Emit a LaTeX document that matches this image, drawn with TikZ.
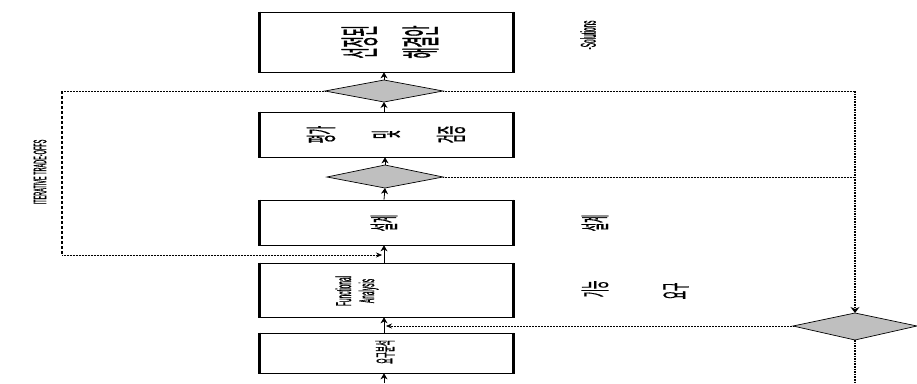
\documentclass[tikz,border=0pt]{standalone}
\usepackage{fontspec}
\newfontfamily\kr[FakeBold=1]{Noto Sans CJK KR}
\newfontfamily\lat[FakeBold=1]{Liberation Sans}
\usetikzlibrary{arrows.meta}
\begin{document}
\begin{tikzpicture}[x=1pt,y=-1pt,
  procbox/.style={draw,line width=0.7pt,minimum width=256pt,inner sep=0pt},
  dec/.style={draw,line width=0.7pt,fill=black!25},
  flow/.style={line width=0.8pt,-{Stealth[length=6pt,width=7pt]}},
  thin/.style={line width=0.5pt,densely dotted},
  vtxt/.style={xscale=3.3,rotate=90,align=center,inner sep=0pt}]
\useasboundingbox (0,0) rectangle (917,383);
% boxes
\node[procbox,minimum height=60pt] (b1) at (386,42) {};
\node[procbox,minimum height=45pt] (b2) at (386,134.5) {};
\node[procbox,minimum height=45pt] (b3) at (386,222.5) {};
\node[procbox,minimum height=54pt] (b4) at (386,290) {};
\node[procbox,minimum height=40pt] (b5) at (386,353) {};
\foreach \b in {b1,b2,b3,b4,b5}{
  \draw[line width=3.5pt] ([xshift=1.75pt]\b.north west) -- ([xshift=1.75pt]\b.south west);
  \draw[line width=2pt] ([xshift=-1pt]\b.north east) -- ([xshift=-1pt]\b.south east);}
% box texts
\node[vtxt,font=\kr\fontsize{12}{18.5}\selectfont] (t1) at (390,42) {선정된\\해결안};
\node[vtxt,font=\kr\fontsize{9.5}{19.7}\selectfont] (t2) at (386,134.5) {평가\\및\\검증};
\node[vtxt,font=\kr\fontsize{9}{10}\selectfont] (t3) at (384,223) {설계};
\node[vtxt,font=\lat\fontsize{6.5}{7}\selectfont] (t4) at (357,291) {Functional\\Analysis};
\node[vtxt,font=\kr\fontsize{6.5}{8}\selectfont] (t5) at (385,352) {요구분석};
% diamonds
\path[dec] (325,91) coordinate (d1w) -- (384,80) coordinate (d1n) -- (443,91) coordinate (d1e) -- (384,102) coordinate (d1s) -- cycle;
\path[dec] (327,177) coordinate (d2w) -- (385,165) coordinate (d2n) -- (443,177) coordinate (d2e) -- (385,188) coordinate (d2s) -- cycle;
\path[dec] (793,326) coordinate (d3w) -- (855,313) coordinate (d3n) -- (917,326) coordinate (d3e) -- (855,340) coordinate (d3s) -- cycle;
% main flow arrows (upward)
\coordinate (bot) at (384,383);
\draw[flow] (bot) -- (b5.south-|bot);
\draw[flow] (b5.north-|bot) -- (b4.south-|bot);
\draw[flow] (b4.north-|bot) -- (b3.south-|bot);
\draw[flow] (b3.north-|bot) -- (d2s);
\draw[flow] (d2n) -- (b2.south-|d2n);
\draw[flow] (b2.north-|bot) -- (d1s);
\draw[flow] (d1n) -- (b1.south-|bot);
% right feedback
\coordinate (r1) at (855,91);
\coordinate (r2) at (855,177);
\coordinate (r3) at (855,383);
\draw[thin] (d1e) -- (r1);
\draw[thin] (d2e) -- (r2);
\draw[line width=1.6pt,densely dotted,-{Stealth[length=6pt,width=9pt]}] (r1) -- (d3n);
\draw[line width=1.6pt,densely dotted] (d3s) -- (r3);
\coordinate (f1) at (386,326);
\draw[thin,-{Stealth[length=6pt,width=5pt]}] (d3w) -- (f1);
% iterative trade-offs loop
\coordinate (l1) at (62,91);
\coordinate (l2) at (62,255);
\coordinate (l3) at (382,255);
\draw[thin] (d1w) -- (l1);
\draw[line width=2.5pt,densely dashed] (l1) -- (l2);
\draw[thin,-{Stealth[length=6pt,width=5pt]}] (l2) -- (l3);
\node[vtxt,font=\lat\fontsize{5.5}{6}\selectfont] (it) at (40,172) {ITERATIVE TRADE-OFFS};
% side labels
\node[vtxt,font=\lat\fontsize{6.5}{7}\selectfont] (s1) at (588,35) {-Solutions};
\node[vtxt,font=\kr\fontsize{9}{10}\selectfont] (s2) at (595,223) {설계};
\node[vtxt,font=\kr\fontsize{9}{10}\selectfont] (s3) at (595,289) {기능};
\node[vtxt,font=\kr\fontsize{9}{10}\selectfont] (s4) at (676,291) {요구};
\end{tikzpicture}
\end{document}
